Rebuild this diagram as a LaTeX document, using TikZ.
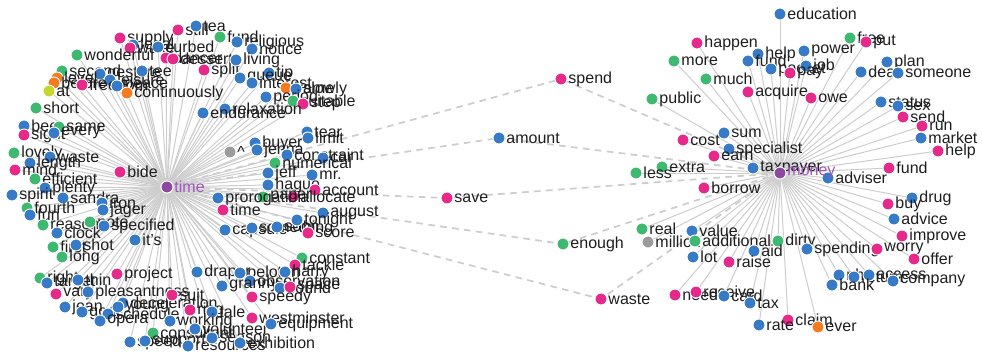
\documentclass[tikz,border=0pt]{standalone}
\usepackage{fontspec}
\setmainfont{Liberation Sans}
\pgfdeclarelayer{bg}
\pgfsetlayers{bg,main}
\definecolor{cP}{RGB}{231,41,138}
\definecolor{cB}{RGB}{55,122,200}
\definecolor{cG}{RGB}{62,186,112}
\definecolor{cO}{RGB}{245,122,32}
\definecolor{cR}{RGB}{155,155,155}
\definecolor{cY}{RGB}{200,214,44}
\definecolor{cV}{RGB}{142,72,160}
\definecolor{cVt}{RGB}{160,88,185}
\definecolor{lineg}{RGB}{205,205,205}
\definecolor{txt}{RGB}{30,30,30}
\tikzset{
  dotnode/.style={circle,draw=white,line width=0.7pt,minimum size=9pt,inner sep=0pt},
  lab/.style={anchor=west,inner sep=0pt,text=txt,font=\fontsize{12}{12}\selectfont},
  spoke/.style={draw=lineg,line width=0.75pt},
  dashlink/.style={draw=lineg,line width=1.3pt,dash pattern=on 5pt off 4pt},
}
\begin{document}
\begin{tikzpicture}[x=0.75pt,y=-0.75pt]
\useasboundingbox (0,0) rectangle (982,357);
% centres
\node[dotnode,fill=cV] (time) at (167,187) {};
\node[dotnode,fill=cV] (money) at (780,173) {};
% middle nodes
\foreach \x/\y/\c/\t/\n in {561/79/P/spend/spend,499/138/B/amount/amount,447/198/P/save/save,563/244/G/enough/enough,601/299/P/waste/waste}{
  \node[dotnode,fill=c\c] (\n) at (\x,\y) {};
  \node[lab] (\n t) at ([xshift=5.4pt]\n.center) {\t};
  \begin{pgfonlayer}{bg}
    \draw[dashlink] (time.center) -- (\n.center);
    \draw[dashlink] (money.center) -- (\n.center);
  \end{pgfonlayer}
}
% left cluster
\foreach \x/\y/\c/\t [count=\i] in {
120/38/P/supply,133/45/B/legal,178/30/P/still,196/26/B/tea,130/48/P/wake,158/47/B/curbed,
220/37/G/fund,237/42/B/religious,252/49/B/notice,166/58/P/dancer,173/59/P/dessert,
204/70/P/split,236/60/B/living,269/73/B/tip,240/78/B/queue,252/83/B/interest,286/88/O/frame,
296/89/B/slowly,266/97/B/period,293/101/G/suitable,303/104/P/step,225/109/B/relaxation,
203/113/B/endurance,77/55/G/wonderful,62/71/G/second,100/74/B/gesture,142/71/B/tee,
110/80/B/leisure,57/78/O/level,54/83/O/before,82/85/P/freedom,49/91/Y/at,117/86/B/peace,
127/93/O/continuously,36/108/G/short,24/126/B/beer,59/127/G/same,24/135/P/sight,54/133/B/every,
14/153/G/lovely,50/157/B/waste,30/163/B/length,15/170/P/mind,35/179/G/efficient,45/188/B/plenty,
120/172/P/bide,12/195/B/spirit,63/198/B/sandra,27/208/G/fourth,30/215/B/fun,102/203/B/iron,
103/210/B/jager,43/225/G/reason,90/222/G/note,104/226/B/specified,57/233/B/clock,135/240/B/it's,
53/247/G/first,76/245/B/shot,62/257/G/long,40/278/G/right,47/283/B/target,78/280/B/thin,
117/274/P/project,56/294/P/vary,88/292/B/pleasantness,65/307/B/jean,82/312/B/goal,
108/314/B/schedule,100/321/B/opera,123/303/B/deceleration,118/307/B/young,172/295/P/suit,
190/310/P/ring,212/312/B/tale,170/321/B/working,153/333/G/consultant,130/342/B/speed,
145/341/B/support,195/329/B/volunteer,188/346/B/resources,212/338/B/season,240/343/B/exhibition,
307/132/B/tear,308/138/B/limit,255/143/B/buyer,257/150/B/jenna,230/152/R/\textasciicircum,
287/155/B/constraint,323/158/B/car,275/163/G/numerical,268/173/B/jeff,312/175/B/mr.,
268/185/B/hague,315/190/P/account,293/197/P/allocate,263/197/G/paper,218/198/B/prorogation,
223/210/P/time,323/213/B/august,225/230/B/capsule,252/228/B/something,277/227/B/soon,
297/220/B/tonight,308/233/P/score,302/258/G/constant,295/265/P/tackle,197/272/B/draper,
240/273/B/peloton,285/272/B/harry,250/281/B/observation,222/286/B/granny,280/288/B/sound,
290/287/P/space,252/297/P/speedy,252/318/P/westminster,271/324/B/equipment}{
  \node[dotnode,fill=c\c] (L\i) at (\x,\y) {};
  \node[lab] (Lt\i) at ([xshift=5.4pt]L\i.center) {\t};
  \begin{pgfonlayer}{bg}\draw[spoke] (time.center) -- (L\i.center);\end{pgfonlayer}
}
% right cluster
\foreach \x/\y/\c/\t [count=\i] in {
780/14/B/education,697/43/P/happen,850/38/G/free,866/42/P/put,758/54/B/help,804/51/B/power,
674/61/G/more,748/61/B/fund,887/62/B/plan,771/69/B/pocket,806/66/B/job,790/73/P/pay,
861/72/B/deal,898/73/B/someone,706/79/G/much,748/92/P/acquire,811/98/P/owe,652/99/G/public,
881/102/B/status,898/106/B/sex,903/117/P/send,922/126/P/run,921/138/B/market,938/151/P/help,
724/133/B/sum,683/140/P/cost,729/149/B/specialist,714/156/P/earn,889/168/P/fund,662/167/G/extra,
636/173/G/less,753/168/B/taxpayer,828/178/B/adviser,704/188/P/borrow,912/198/B/drug,
888/204/P/buy,894/219/B/advice,902/236/P/improve,642/229/G/real,692/231/B/value,
648/242/R/million,695/241/G/additional,778/241/G/dirty,754/251/B/aid,807/249/B/spending,
877/249/P/worry,914/259/P/offer,693/257/B/lot,729/262/P/raise,839/275/B/nhs,854/277/B/return,
869/275/B/access,893/281/B/company,832/285/B/bank,675/295/P/need,696/292/P/receive,
724/296/B/card,750/303/B/tax,788/320/P/claim,759/325/B/rate,818/327/O/ever}{
  \node[dotnode,fill=c\c] (R\i) at (\x,\y) {};
  \node[lab] (Rt\i) at ([xshift=5.4pt]R\i.center) {\t};
  \begin{pgfonlayer}{bg}\draw[spoke] (money.center) -- (R\i.center);\end{pgfonlayer}
}
% centre labels on top
\node[dotnode,fill=cV] (time2) at (time.center) {};
\node[lab,text=cVt] (timet) at ([xshift=5.4pt]time.center) {time};
\node[dotnode,fill=cV] (money2) at (money.center) {};
\node[lab,text=cVt] (moneyt) at ([xshift=5.4pt]money.center) {money};
\end{tikzpicture}
\end{document}
